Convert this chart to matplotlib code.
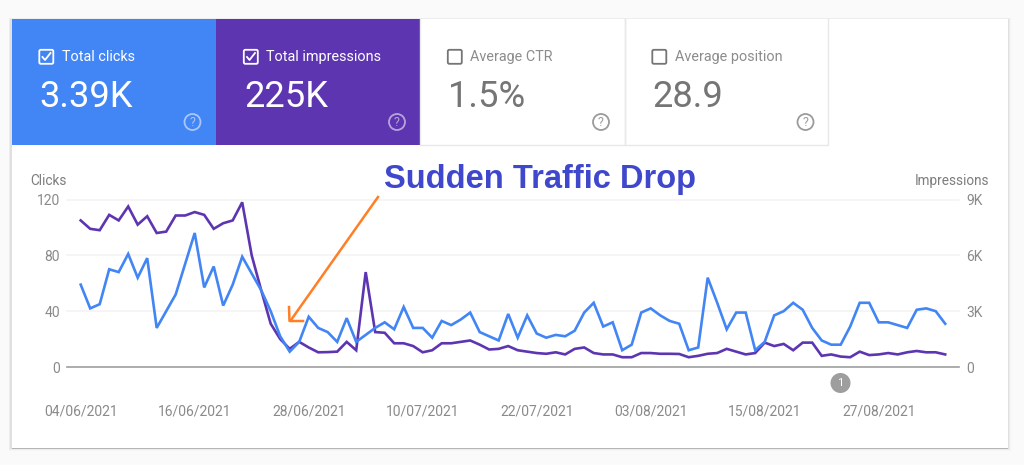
import matplotlib
matplotlib.use("Agg")
import matplotlib.pyplot as plt
from matplotlib.patches import Rectangle, FancyBboxPatch, Circle

plt.rcParams['font.family'] = ['Roboto', 'DejaVu Sans']

clicks = [59,42,45,70,68,81,64,78,28,40,52,74,96,57,72,44,59,79,67,55,40,22,11,18,36,28,25,18,
          35,18,23,28,32,27,43,28,28,21,33,30,34,39,25,22,19,38,21,37,24,21,23,22,26,39,46,29,32,12,16,39,42,37,
          33,31,12,14,64,46,27,39,39,12,18,37,40,46,41,28,19,16,16,29,46,46,32,32,30,28,41,42,40,31]
impressions = [7875,7425,7350,8175,7875,8625,7650,8100,7200,7275,8140,8140,8325,8175,7425,7725,7875,8850,6000,4125,2325,1500,975,1350,1050,790,800,825,
               1350,900,5100,1875,1840,1275,1275,1125,790,900,1275,1275,1350,1425,1200,940,975,1125,900,825,750,710,790,675,975,1050,750,675,675,525,525,750,750,710,
               710,700,525,600,710,750,975,825,675,750,1310,1125,1240,900,1310,1310,600,675,560,525,825,640,675,750,675,790,860,790,790,675]
date_labels = ['04/06/2021','16/06/2021','28/06/2021','10/07/2021','22/07/2021','03/08/2021','15/08/2021','27/08/2021']
date_ticks = [0,12,24,36,48,60,72,84]
clicks_ticks = [0,40,80,120]
impr_ticks = [0,3000,6000,9000]
impr_labels = ['0','3K','6K','9K']
tabs = [('Total clicks','3.39K',True,'#4285f4'),('Total impressions','225K',True,'#5e35b1'),
        ('Average CTR','1.5%',False,'#ffffff'),('Average position','28.9',False,'#ffffff')]

W,H = 1024,465
fig = plt.figure(figsize=(W/100,H/100),dpi=100,facecolor='#fafafa')

# pixel-space layer for the card and the metric tabs
bg = fig.add_axes([0,0,1,1],zorder=0)
bg.set_xlim(0,W); bg.set_ylim(H,0); bg.axis('off')
for off,a in ((3.0,0.02),(2.2,0.03),(1.4,0.05)):
    bg.add_patch(Rectangle((11.5-off,19.5-off*0.5),996.5+2*off,428.5+off*1.5,fc='k',alpha=a,ec='none'))
bg.add_patch(Rectangle((11.5,447),996.5,2.2,fc='#b5b5b5',ec='none'))
bg.add_patch(Rectangle((11.5,19.5),996.5,428,fc='white',ec='none'))
tx = [11.5,216,420,624.5]
tr = [216,420,624.5,828]
for (name,val,on,col),x,xr in zip(tabs,tx,tr):
    bg.add_patch(Rectangle((x,19.5),xr-x,125.5,fc=col,ec='none'))
    if not on:
        bg.plot([x,x,xr,xr],[19.5,145,145,19.5],color='#e8e8e8',lw=1)
    fg_col = 'white' if on else '#757575'
    bg.add_patch(FancyBboxPatch((x+27.8,49.8),14,14,boxstyle='round,pad=0,rounding_size=1.5',
                                fc='none',ec=fg_col,lw=1.3))
    if on:
        bg.plot([x+31,x+33.5,x+39],[57,60,53],color='white',lw=1.3)
    bg.text(x+50.5,57,name,color='white' if on else '#8c8c8c',fontsize=10.4,va='center',ha='left')
    bg.text(x+28,97,val,color='white' if on else '#757575',fontsize=26.2,va='center',ha='left')
    qc = 'white' if on else '#8a8a8a'
    bg.add_patch(Circle((x+181,122),8,fc='none',ec=qc,lw=1.3,alpha=0.55 if on else 0.85))
    bg.text(x+181,122,'?',color=qc,alpha=0.55 if on else 0.85,fontsize=9,ha='center',va='center')

# plot axes: left edge 67 px, right edge 959 px, baseline 367 px, top 199.5 px
L,R,B,T = 67,959,367,199.5
ax = fig.add_axes([L/W,1-B/H,(R-L)/W,(B-T)/H],zorder=2)
ax.patch.set_alpha(0)
ax2 = ax.twinx()
ax.set_zorder(3); ax2.set_zorder(2); ax2.patch.set_alpha(0)
days = list(range(len(clicks)))
ax2.plot(days,impressions,color='#5e35b1',lw=1.9,solid_joinstyle='miter',clip_on=False)
ax.plot(days,clicks,color='#4285f4',lw=1.9,solid_joinstyle='miter',clip_on=False)
ax.set_xlim((L-80.7)/9.5,(R-80.7)/9.5)
ax.set_ylim(0,120); ax2.set_ylim(0,9000)
ax.set_xticks(date_ticks); ax.set_xticklabels(date_labels)
ax.set_yticks(clicks_ticks); ax2.set_yticks(impr_ticks); ax2.set_yticklabels(impr_labels)
ax.grid(False); ax2.grid(False)
for v in clicks_ticks[1:]:
    ax2.axhline(v*75,color='#f3f3f3',lw=1.2,zorder=0,clip_on=False)
for a in (ax,ax2):
    for s in a.spines.values():
        s.set_visible(False)
    a.spines['bottom'].set_visible(a is ax)
    a.tick_params(length=0,labelcolor='#8a8a8a',labelsize=10)
ax.spines['bottom'].set_color('#9e9e9e'); ax.spines['bottom'].set_linewidth(1.2)
ax.tick_params(axis='x',pad=27)
ax.tick_params(axis='y',pad=5)
ax2.tick_params(axis='y',pad=5)

# foreground annotations
fg = fig.add_axes([0,0,1,1],zorder=5)
fg.set_xlim(0,W); fg.set_ylim(H,0); fg.axis('off'); fg.patch.set_alpha(0)
fg.text(30,181,'Clicks',color='#7d7d7d',fontsize=9.8,va='center',ha='left')
fg.text(989.5,181,'Impressions',color='#7d7d7d',fontsize=9.8,va='center',ha='right')
fg.text(384,179,'Sudden Traffic Drop',color='#3f48cc',fontsize=23.5,fontweight='bold',
        family='Liberation Sans',va='center',ha='left')
fg.plot([378,291],[197,320],color='#ff7f27',lw=1.8)
fg.plot([289,289.5,303],[307,321,321],color='#ff7f27',lw=1.8)
fg.add_patch(Circle((840.5,383),10,fc='#9e9e9e',ec='none'))
fg.text(840.5,383,'1',color='white',fontsize=8,ha='center',va='center')

fig.savefig('out.png',dpi=100,facecolor=fig.get_facecolor())
